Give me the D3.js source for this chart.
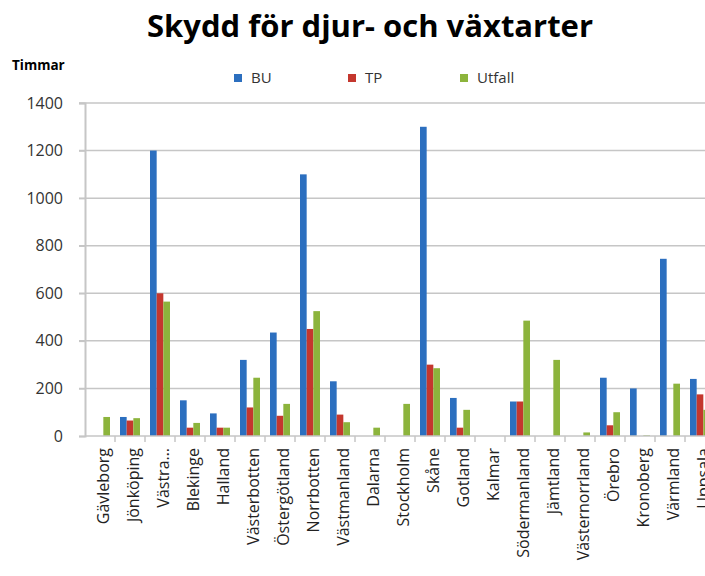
<!DOCTYPE html>
<html>
<head>
<meta charset="utf-8">
<script src="https://cdn.jsdelivr.net/npm/d3@7/dist/d3.min.js"></script>
<style>
  body { margin: 0; background: #fff; }
  svg { display: block; font-family: "Open Sans", sans-serif; }
</style>
</head>
<body>
<svg id="chart" width="705" height="576"></svg>
<script>
var categories = ['Gävleborg', 'Jönköping', 'Västra…', 'Blekinge', 'Halland', 'Västerbotten',
  'Östergötland', 'Norrbotten', 'Västmanland', 'Dalarna', 'Stockholm', 'Skåne', 'Gotland',
  'Kalmar', 'Södermanland', 'Jämtland', 'Västernorrland', 'Örebro', 'Kronoberg', 'Värmland', 'Uppsala'];
var seriesNames = ['BU', 'TP', 'Utfall'];
var bu     = [0, 80, 1200, 150, 95, 320, 435, 1100, 230, 0, 0, 1300, 160, 0, 145, 0, 0, 245, 200, 745, 240];
var tp     = [0, 65, 600, 35, 35, 120, 85, 450, 90, 0, 0, 300, 35, 0, 145, 0, 0, 45, 0, 0, 175];
var utfall = [80, 75, 565, 55, 35, 245, 135, 525, 58, 35, 135, 285, 110, 0, 485, 320, 15, 100, 3, 220, 110];
var yTicks = [0, 200, 400, 600, 800, 1000, 1200, 1400];
var colors = ['#2c6fbf', '#c4372e', '#8cb43c'];

var svg = d3.select('#chart');
var plotLeft = 85, plotBase = 436, plotTop = 103;

var x = d3.scaleBand().domain(categories).range([plotLeft, plotLeft + categories.length * 30]);
var xs = d3.scaleBand().domain(seriesNames).range([5, 25]);
var y = d3.scaleLinear().domain([0, 1400]).range([plotBase, plotTop]);
var color = d3.scaleOrdinal().domain(seriesNames).range(colors);

// gridlines
svg.append('g')
  .selectAll('line')
  .data(yTicks.slice(1))
  .enter().append('line')
  .attr('x1', plotLeft - 6).attr('x2', 705)
  .attr('y1', function(d) { return y(d); })
  .attr('y2', function(d) { return y(d); })
  .attr('stroke', '#c6c6c6')
  .attr('stroke-width', 1.5);

// y axis
var yAxis = svg.append('g')
  .attr('transform', 'translate(' + plotLeft + ',0)')
  .call(d3.axisLeft(y).tickValues(yTicks).tickFormat(d3.format('d')).tickSize(6).tickPadding(16));
yAxis.select('.domain').attr('stroke', '#c6c6c6').attr('stroke-width', 2);
yAxis.selectAll('.tick line').attr('stroke', '#c6c6c6').attr('stroke-width', 1.5);
yAxis.selectAll('.tick text')
  .attr('font-size', 16).attr('fill', '#333')
  .style('font-family', '"Open Sans", sans-serif');

// bars
var rows = categories.map(function(c, i) {
  return {cat: c, values: [bu[i], tp[i], utfall[i]]};
});
var groups = svg.append('g')
  .selectAll('g')
  .data(rows)
  .enter().append('g')
  .attr('transform', function(d) { return 'translate(' + x(d.cat) + ',0)'; });
groups.selectAll('rect')
  .data(function(d) {
    return d.values.map(function(v, k) { return {key: seriesNames[k], value: v}; })
      .filter(function(e) { return e.value > 0; });
  })
  .enter().append('rect')
  .attr('x', function(d) { return xs(d.key); })
  .attr('width', xs.bandwidth())
  .attr('y', function(d) { return y(d.value); })
  .attr('height', function(d) { return plotBase - y(d.value); })
  .attr('fill', function(d) { return color(d.key); });

// x axis
var xAxis = svg.append('g')
  .attr('transform', 'translate(0,' + plotBase + ')');
xAxis.append('line')
  .attr('x1', plotLeft).attr('x2', 705)
  .attr('stroke', '#c6c6c6').attr('stroke-width', 1.5);
xAxis.selectAll('.xtick')
  .data(categories)
  .enter().append('line')
  .attr('x1', function(d) { return x(d) + x.bandwidth(); })
  .attr('x2', function(d) { return x(d) + x.bandwidth(); })
  .attr('y1', 0).attr('y2', 6)
  .attr('stroke', '#c6c6c6').attr('stroke-width', 1.5);
xAxis.selectAll('.xlabel')
  .data(categories)
  .enter().append('text')
  .attr('transform', function(d) {
    return 'translate(' + (x(d) + x.bandwidth() / 2 + 3) + ',12) rotate(-90)';
  })
  .attr('text-anchor', 'end')
  .attr('dy', '0.35em')
  .attr('font-size', 16)
  .attr('fill', '#222')
  .text(function(d) { return d; });

// title
svg.append('text')
  .attr('x', 370).attr('y', 37)
  .attr('text-anchor', 'middle')
  .attr('font-size', 31)
  .attr('font-weight', 'bold')
  .attr('textLength', 446)
  .attr('lengthAdjust', 'spacingAndGlyphs')
  .text('Skydd för djur- och växtarter');

svg.append('text')
  .attr('x', 12).attr('y', 70)
  .attr('font-size', 13.5)
  .attr('font-weight', 'bold')
  .text('Timmar');

// legend
var legendX = [234, 348, 460];
var legend = svg.append('g')
  .selectAll('g')
  .data(seriesNames)
  .enter().append('g')
  .attr('transform', function(d, i) { return 'translate(' + legendX[i] + ',78)'; });
legend.append('rect')
  .attr('x', 0).attr('y', -4)
  .attr('width', 8).attr('height', 8)
  .attr('fill', function(d) { return color(d); });
legend.append('text')
  .attr('x', 17).attr('dy', '0.35em')
  .attr('font-size', 15)
  .attr('fill', '#333')
  .text(function(d) { return d; });
</script>
</body>
</html>
